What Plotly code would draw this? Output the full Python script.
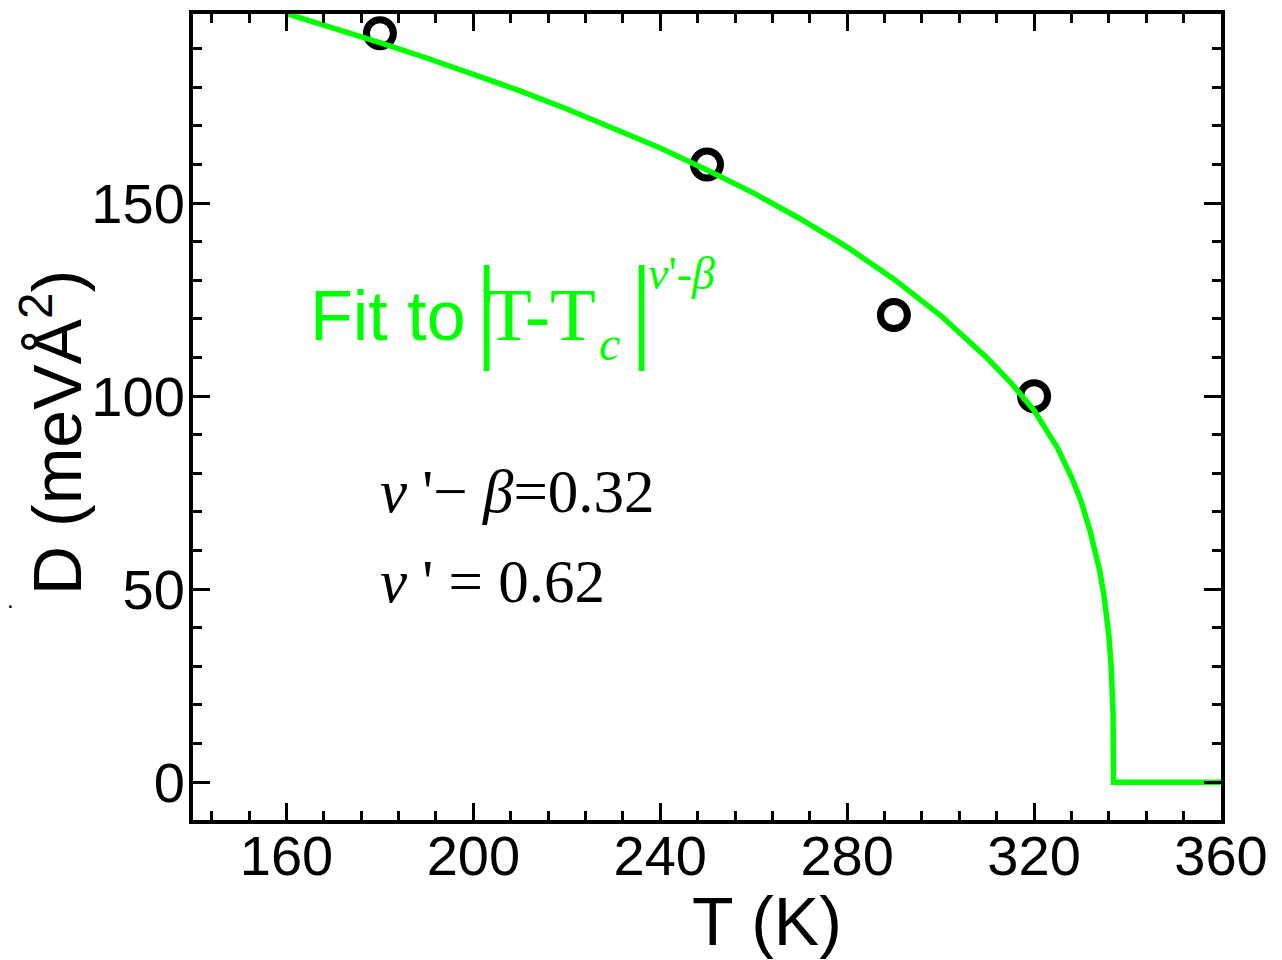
import plotly.graph_objects as go

# measured points
meas_T = [180, 250, 290, 320]
meas_D = [194, 160, 121, 100]

# fit curve
fit_T = [160, 170, 180, 190, 200, 210, 220, 230, 240, 250, 260, 270, 280, 290,
         300, 310, 315, 320, 325, 328, 330, 332, 334, 335, 336, 336.5, 336.9, 337, 360]
fit_D = [199.1, 195.5, 191.6, 187.6, 183.5, 179.1, 174.4, 169.5, 164.3, 158.6, 152.6,
         145.9, 138.6, 130.3, 120.9, 109.8, 103.5, 96.3, 86.6, 79.0, 73.0, 65.0, 55.0,
         48.0, 38.0, 30.0, 18.0, 0, 0]

x_ticks = [160, 200, 240, 280, 320, 360]
y_ticks = [0, 50, 100, 150]

GREEN = "#00ff00"
SANS = "Arial, Liberation Sans, sans-serif"
SERIF = "Times New Roman, Liberation Serif, serif"

OFF = 8  # default page margin of the html body
W, H = 1282 - OFF, 960 - OFF
L, T = 193 - OFF, 10 - OFF
R = W - (1221 - OFF)
B = H - (820 - OFF)
PW, PH = W - L - R, H - T - B


def px(x):  # page pixel -> paper
    return (x - OFF - L) / PW


def py(y):
    return (H - B - (y - OFF)) / PH


fig = go.Figure()
fig.add_trace(go.Scatter(
    x=meas_T, y=meas_D, mode="markers",
    marker=dict(symbol="circle-open", size=27, color="black", line=dict(width=7, color="black")),
    showlegend=False))
fig.add_trace(go.Scatter(
    x=fit_T, y=fit_D, mode="lines",
    line=dict(color=GREEN, width=5.5), showlegend=False))

axis_common = dict(
    showline=True, linewidth=4, linecolor="black", mirror="ticks",
    ticks="inside", ticklen=17, tickwidth=3, tickcolor="black",
    showgrid=False, zeroline=False,
    tickfont=dict(family=SANS, size=56, color="black"),
)

fig.update_xaxes(range=[140, 360], tickvals=x_ticks,
                 minor=dict(dtick=8, tick0=0, ticks="inside", ticklen=9, tickwidth=3, tickcolor="black"),
                 ticklabelstandoff=-16, **axis_common)
fig.update_yaxes(range=[-9.8, 199], tickvals=y_ticks,
                 minor=dict(dtick=10, tick0=0, ticks="inside", ticklen=9, tickwidth=3, tickcolor="black"),
                 ticklabelstandoff=-7, **axis_common)

ann = []


def add(text, x, y, size, family, color="black", xanchor="left", angle=0):
    ann.append(dict(text=text, x=px(x), y=py(y), xref="paper", yref="paper",
                    xanchor=xanchor, yanchor="middle", showarrow=False, textangle=angle,
                    font=dict(family=family, size=size, color=color)))


# axis titles
add("D (meVÅ<sup>2</sup>)", 52, 431, 68, SANS, xanchor="center", angle=-90)
add("T (K)", 767, 921, 68, SANS, xanchor="center")

# green fit label
add("Fit to", 308, 313, 70, SANS, GREEN)
add("|", 473, 304, 116, SERIF, GREEN)
add("T-T", 484, 312, 75, SERIF, GREEN)
add("<i>c</i>", 597, 341, 48, SERIF, GREEN)
add("|", 628, 304, 116, SERIF, GREEN)
add("<i>ν</i>'-<i>β</i>", 646, 271, 46, SERIF, GREEN)

# exponents
add("<i>ν</i> '− <i>β</i>=0.32", 378, 490, 61, SERIF)
add("<i>ν</i> ' = 0.62", 378, 580, 61, SERIF)

# stray mark at left edge
add(".", 5, 598, 24, SANS)

fig.update_layout(
    width=W, height=H,
    margin=dict(l=L, r=R, t=T, b=B),
    paper_bgcolor="white", plot_bgcolor="white",
    annotations=ann,
)

fig.write_html("out.html")
